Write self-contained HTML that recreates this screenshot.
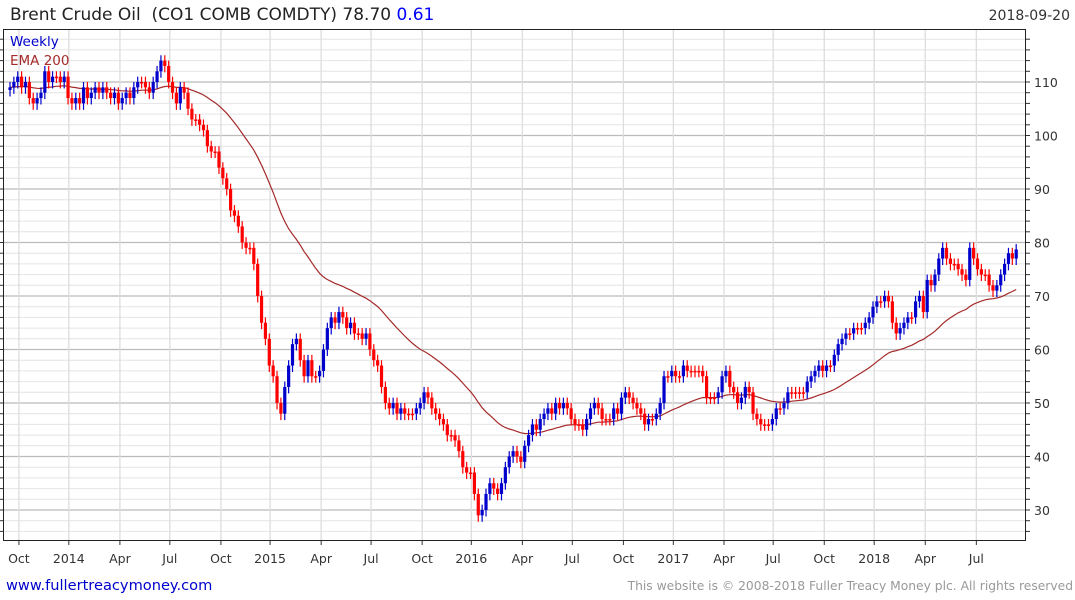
<!DOCTYPE html>
<html><head><meta charset="utf-8"><style>
body{margin:0;background:#fff;width:1075px;height:600px;overflow:hidden;font-family:"DejaVu Sans","Liberation Sans",sans-serif}
svg{display:block}
</style></head><body>
<svg id="chart" width="1075" height="600" xmlns="http://www.w3.org/2000/svg" font-family="DejaVu Sans, Liberation Sans, sans-serif">
<text x="10" y="20" font-size="17" fill="#222" xml:space="preserve" style="white-space:pre">Brent Crude Oil  (CO1 COMB COMDTY) 78.70 <tspan fill="#0000ff">0.61</tspan></text>
<text x="1070" y="20" font-size="14" fill="#333" text-anchor="end">2018-09-20</text>
<g id="grid"></g>
<g id="marks"></g>
<rect x="3.5" y="29.5" width="1022" height="511" fill="none" stroke="#222"/>
<text x="10" y="46" font-size="13.5" fill="#0000cc">Weekly</text>
<text x="10" y="65" font-size="13.5" fill="#a52a2a">EMA 200</text>
<text x="6" y="590" font-size="14.6" fill="#0000cc">www.fullertreacymoney.com</text>
<text x="1073" y="590" font-size="12.3" fill="#999" text-anchor="end">This website is © 2008-2018 Fuller Treacy Money plc. All rights reserved</text>
</svg>
<script>
const closes = [109,110,
111,109,110,107,106,107,108,112,110,111,111,110,111,
107,106,107,106,109,107,108,109,108,109,108,107,108,
106,107,108,107,109,110,110,109,108,110,112,114,113,
110,108,106,109,108,105,103,103,102,101,98,97,97,
94,92,90,86,85,83,80,79,79,76,70,65,62,
57,55,50,48,53,57,61,62,58,55,58,55,55,
56,60,64,66,65,67,66,64,65,63,63,62,63,
60,58,57,53,50,49,50,48,49,48,48,48,49,
50,52,51,49,48,47,46,44,44,43,41,38,37,
37,33,29,30,33,35,34,33,35,38,40,41,40,
39,42,44,46,45,47,48,49,48,50,49,50,49,
47,46,46,45,47,49,50,49,47,47,47,49,48,
51,52,51,50,49,48,46,47,47,48,50,55,55,
56,55,55,57,56,56,56,56,55,51,51,51,52,
55,56,53,52,50,51,53,52,48,47,46,46,46,
47,49,49,50,52,52,52,52,52,54,55,56,57,
56,57,57,59,61,62,63,63,64,64,64,65,66,
68,69,69,70,69,65,63,64,65,66,66,69,70,
67,73,72,74,77,79,77,76,76,75,74,73,79,
77,75,74,74,72,71,72,74,76,78,77,78.7];
const monthLabels = ["Oct","2014","Apr","Jul","Oct","2015","Apr","Jul","Oct","2016","Apr","Jul","Oct","2017","Apr","Jul","Oct","2018","Apr","Jul"];
const monthWeeks = [2.3,15.2,28.4,41.3,54.5,67.2,80.4,93.3,106.5,119.2,132.4,145.3,158.5,171.4,184.5,197.2,210.4,223.3,236.5,249.7];
const yTicks = [30,40,50,60,70,80,90,100,110];
const emaSeed = 109;
const emaPeriod = 40;

const NS="http://www.w3.org/2000/svg";
const X0=10, DX=3.87, Y110=82, PX=5.35;
const xs = i => X0 + i*DX;
const ys = v => Y110 + (110 - v)*PX;
function mk(tag, attrs, parent){const e=document.createElementNS(NS,tag);for(const k in attrs)e.setAttribute(k,attrs[k]);parent.appendChild(e);return e;}
const grid=document.getElementById('grid'), marks=document.getElementById('marks'), svg=document.getElementById('chart');

for(let v=26; v<=120; v+=2){
  const y=ys(v); if(y<30||y>540) continue;
  const major = v%10===0;
  const l=mk('line',{x1:4,x2:1025,y1:y,y2:y,stroke:major?'#bbb':'#e4e4e4','stroke-width':major?1.3:1},grid);
  
  
  const t=mk('line',{x1:0,x2:4,y1:y,y2:y,stroke:'#333'},grid);
  
  
  const t2=mk('line',{x1:1025,x2:1030,y1:y,y2:y,stroke:'#333'},grid);
  
  
}
yTicks.forEach(v=>{
  const t=mk('text',{x:1034,y:ys(v)+5,'font-size':12.5,fill:'#333'},svg);
  t.textContent=v;
  
  
});
monthLabels.forEach((m,k)=>{
  const x=xs(monthWeeks[k]);
  const l=mk('line',{x1:x,x2:x,y1:30,y2:540,stroke:'#ddd','stroke-width':1.3},grid);
  
  
  const tk=mk('line',{x1:x,x2:x,y1:540,y2:545,stroke:'#333'},grid);
  
  
  const t=mk('text',{x:x,y:563,'font-size':12.5,fill:'#333','text-anchor':'middle'},svg);
  t.textContent=m;
  
  
});

let ema=emaSeed, a=2/(emaPeriod+1), pts=[];
closes.forEach((c,i)=>{ema=ema+a*(c-ema);pts.push(xs(i).toFixed(1)+','+ys(ema).toFixed(1));});
const pl=mk('polyline',{points:pts.join(' '),fill:'none',stroke:'#a52a2a','stroke-width':1.2},marks);



closes.forEach((c,i)=>{
  const o = i===0 ? 108.5 : closes[i-1];
  const up = c>o;
  const col = up ? '#0000cc' : '#ff0000';
  const hi=Math.max(o,c)+1, lo=Math.min(o,c)-1.2;
  const x=xs(i);
  const w=mk('line',{x1:x,x2:x,y1:ys(hi),y2:ys(lo),stroke:col,'stroke-width':1.2},marks);
  
  
  const top=ys(Math.max(o,c)), h=Math.max(1.5,ys(Math.min(o,c))-top);
  const b=mk('rect',{x:x-1.6,y:top,width:3.2,height:h,fill:col},marks);
  
  
});
</script>
</body></html>
